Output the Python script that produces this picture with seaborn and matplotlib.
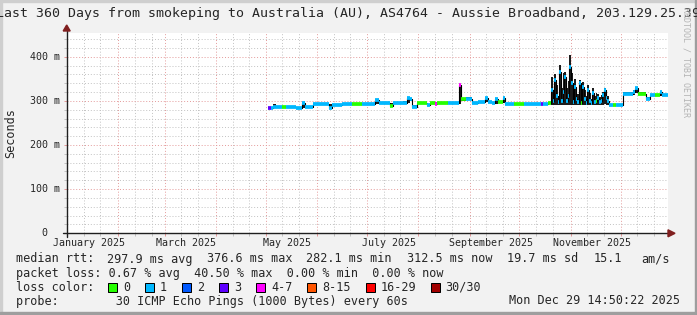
import numpy as np
import pandas as pd
import matplotlib
matplotlib.use("Agg")
import matplotlib.pyplot as plt
import matplotlib.dates as mdates
from matplotlib.patches import Rectangle, Polygon
from matplotlib.lines import Line2D
import seaborn as sns

# ---------------- data ----------------
day_of_year = [121.5, 123, 124.5, 126, 130, 132, 138, 142, 143.5, 148.5,
               152, 158, 160, 166, 172, 178, 182, 186, 188, 195,
               196.5, 203, 205, 207, 208, 211, 217, 219, 222, 223.5,
               230, 235, 236.5, 237.5, 241, 244.5, 248, 252, 254, 256.5,
               258, 260, 263, 264.5, 270, 276, 282, 286, 287, 290.5,
               292, 293, 294, 295, 296, 297, 298, 299, 300, 301,
               302, 303, 304, 305, 306, 307, 308, 309, 310, 311,
               312, 313, 314, 315, 316, 317, 318, 319, 320, 321,
               322, 323, 324, 325, 326,
               327, 329.5, 331, 335.5, 341.5, 343, 344.5, 349.5, 351.5, 355,
               357.5, 359, 362.6]
median_ms = [283, 284, 285, 285, 286, 285, 284, 296, 285, 293,
             293, 284, 291, 293, 292, 294, 293, 302, 295, 288,
             295, 296, 306, 304, 287, 294.5, 291, 294.5, 294, 294.5,
             294.5, 295, 336, 304, 305, 294.5, 298, 307, 298, 294.5,
             304, 298, 306, 293.5, 293.5, 293.5, 293.5, 293, 293.5, 294.5,
             325, 300, 347, 310, 298, 366, 299, 320, 355, 299,
             310, 377, 340, 297, 332, 305, 297, 340, 294.5, 332,
             305, 294.5, 325, 300, 294.5, 317, 298, 300, 306, 298,
             300, 313, 325, 306, 300,
             290.5, 290.5, 290.5, 316, 320, 328, 316, 304, 313, 313,
             320, 313, 312.5]
loss_class = [3, 1, 1, 1, 0, 1, 1, 1, 1, 1,
              1, 1, 1, 1, 0, 1, 1, 1, 1, 0,
              1, 1, 1, 1, 1, 0, 1, 0, 4, 0,
              1, 1, 4, 0, 1, 1, 1, 1, 1, 1,
              1, 0, 1, 1, 0, 1, 1, 3, 1, 0,
              1, 1, 1, 1, 1, 1, 1, 1, 1, 1,
              1, 1, 1, 1, 1, 1, 1, 1, 0, 1,
              1, 1, 1, 1, 1, 1, 1, 0, 1, 1,
              1, 1, 1, 1, 1,
              1, 0, 1, 1, 1, 1, 0, 1, 1, 0,
              1, 1, 1]
smoke_lo_ms = [281, 282, 283, 283, 284, 283, 282, 284, 283, 290,
               291, 282, 289, 291, 290, 291, 291, 292, 293, 286,
               293, 294, 296, 300, 283, 292, 289, 292, 292, 292,
               292, 293, 294, 300, 301, 292, 295, 298, 295, 292,
               294, 295, 296, 291, 291, 291, 291, 291, 291, 292,
               290, 290, 290, 290, 290, 290, 290, 290, 290, 290,
               290, 290, 290, 290, 290, 290, 290, 290, 290, 290,
               290, 290, 290, 290, 290, 290, 290, 290, 290, 290,
               290, 290, 292, 290, 290,
               288, 288, 288, 313, 314, 318, 313, 301, 310, 310,
               312, 310, 310]
smoke_hi_ms = [286, 287, 293, 288, 289, 287, 287, 298, 288, 295,
               295, 292, 294, 295, 294, 296, 296, 304, 297, 295,
               297, 299, 308, 306, 290, 297, 294, 297, 297, 297,
               297, 298, 338, 307, 308, 297, 300, 309, 300, 297,
               306, 300, 308, 296, 296, 296, 296, 296, 296, 297,
               355, 320, 360, 335, 312, 381, 330, 362, 365, 330,
               345, 404, 362, 320, 350, 330, 315, 347, 312, 343,
               325, 310, 335, 318, 305, 328, 310, 318, 315, 308,
               313, 320, 330, 315, 310,
               293, 293, 293, 319, 324, 330, 319, 308, 316, 316,
               322, 316, 315]

loss_labels = ["0", "1", "2", "3", "4-7", "8-15", "16-29", "30/30"]
loss_colors = ["#26ff00", "#00b8ff", "#0059ff", "#5e00ff",
               "#ff00ff", "#ff5500", "#ff0000", "#a10000"]
month_labels = ["January 2025", "March 2025", "May 2025",
                "July 2025", "September 2025", "November 2025"]
month_label_dates = ["2025-01-14", "2025-03-14", "2025-05-14",
                     "2025-07-14", "2025-09-14", "2025-11-14"]
ytick_values = [0, 100, 200, 300, 400]
ytick_labels = ["  0", "100 m", "200 m", "300 m", "400 m"]

title = "Last 360 Days from smokeping to Australia (AU), AS4764 - Aussie Broadband, 203.129.25.39"
median_items = ["median rtt:", "297.9 ms avg", "376.6 ms max", "282.1 ms min",
                "312.5 ms now", "19.7 ms sd", "15.1", "am/s"]
median_item_x = [16, 107.3, 207.3, 306.5, 406.7, 506.7, 593.3, 641.7]
loss_line = "packet loss: 0.67 % avg  40.50 % max  0.00 % min  0.00 % now"
probe_line = "probe:        30 ICMP Echo Pings (1000 Bytes) every 60s"
stamp = "Mon Dec 29 14:50:22 2025"

# ---------------- style ----------------
sns.set_theme(style="white")
plt.rcParams["font.family"] = ["DejaVu Sans Mono", "DejaVu Sans"]

W, H = 697, 315
BACK = "#f2f2f2"
GRID = "#c2c2c2"
MGRID = "#e49a9a"
ARROW = (0.5, 0.12, 0.12)
AXIS = (0.12, 0.12, 0.12)
MONO = "DejaVu Sans Mono"

fig = plt.figure(figsize=(W / 100, H / 100), dpi=100)
fig.patch.set_facecolor(BACK)


def fx(px):
    return px / W


def fy(py):
    return 1 - py / H


L, R, T, B = 67, 668, 33, 233.3
ax = fig.add_axes([fx(L), fy(B), (R - L) / W, (B - T) / H])
ax.set_facecolor("white")

start = pd.Timestamp("2025-01-03 14:50:22")
end = pd.Timestamp("2025-12-29 14:50:22")

dates = pd.Timestamp("2025-01-01") + pd.to_timedelta(day_of_year, unit="D")
xs = mdates.date2num(dates.to_pydatetime())
med = np.array(median_ms, dtype=float)

# smoke
ax.fill_between(xs, smoke_lo_ms, smoke_hi_ms, step="post",
                color="#1c1c1c", lw=0, zorder=2)
# thin black median step line
df = pd.DataFrame({"x": xs, "median": med})
sns.lineplot(data=df, x="x", y="median", drawstyle="steps-post",
             color="black", lw=0.8, ax=ax, zorder=3)
# colored median segments by loss
ax.hlines(med[:-1], xs[:-1], xs[1:],
          colors=[loss_colors[c] for c in loss_class[:-1]],
          lw=2.7, zorder=4, capstyle="butt")

ax.set_xlim(mdates.date2num(start), mdates.date2num(end))
ax.set_ylim(0, 453.7)
ax.set_xlabel("")
ax.set_ylabel("")

# grid / ticks
month_starts = pd.date_range("2025-01-01", "2025-12-01", freq="MS")
minor_days = [m + pd.Timedelta(days=k) for m in month_starts for k in (10, 20)]
ax.set_xticks(mdates.date2num(month_starts.to_pydatetime()))
ax.set_xticks(mdates.date2num([d.to_pydatetime() for d in minor_days]), minor=True)
ax.set_yticks(ytick_values)
ax.set_yticks(np.arange(0, 454, 20), minor=True)
ax.grid(which="major", color=MGRID, lw=0.7, ls=(0, (1.0, 2.0)))
ax.grid(which="minor", color=GRID, lw=0.7, ls=(0, (1.0, 2.0)))
ax.set_axisbelow(True)
ax.tick_params(which="both", direction="out", length=2.2, width=0.72,
               bottom=True, left=True, labelbottom=False, labelleft=False)
ax.tick_params(which="major", color=MGRID)
ax.tick_params(which="minor", color=GRID)
for s in ax.spines.values():
    s.set_visible(False)

# axes lines + arrows
fig.add_artist(Line2D([fx(63), fx(668)], [fy(B), fy(B)], color=AXIS, lw=1.0,
                      transform=fig.transFigure, zorder=6))
fig.add_artist(Polygon([[fx(668), fy(B - 3.5)], [fx(668), fy(B + 3.5)], [fx(675), fy(B)]],
                       closed=True, color=ARROW, transform=fig.transFigure, zorder=6))
fig.add_artist(Line2D([fx(66.7), fx(66.7)], [fy(237), fy(31)], color=AXIS, lw=1.0,
                      transform=fig.transFigure, zorder=6))
fig.add_artist(Polygon([[fx(63.2), fy(31)], [fx(70.2), fy(31)], [fx(66.7), fy(25)]],
                       closed=True, color=ARROW, transform=fig.transFigure, zorder=6))

# x labels
for lab, d in zip(month_labels, month_label_dates):
    ax.text(mdates.date2num(pd.Timestamp(d).to_pydatetime()), (B - 243.5) / (B - T), lab,
            transform=ax.get_xaxis_transform(), ha="center", va="center",
            fontsize=7.2, family=MONO)
# y labels
for v, lab in zip(ytick_values, ytick_labels):
    ax.text((30 - L) / (R - L), v, lab, transform=ax.get_yaxis_transform(),
            ha="left", va="center", fontsize=7.2, family=MONO)
fig.text(fx(11), fy(133), "Seconds", rotation=90, ha="center", va="center",
         fontsize=8.5, family=MONO)

# title
fig.text(fx(348.5), fy(14), title, ha="center", va="center", fontsize=9.5, family=MONO)

# watermark
fig.text(fx(686), fy(62), "RRDTOOL / TOBI OETIKER", rotation=-90, ha="center",
         va="center", fontsize=6, family=MONO, color="#b4b4b4")

# legend
for item, x in zip(median_items, median_item_x):
    fig.text(fx(x), fy(259), item, ha="left", va="center", fontsize=8.5, family=MONO)
fig.text(fx(16), fy(273.5), loss_line, ha="left", va="center", fontsize=8.5, family=MONO)
fig.text(fx(16), fy(287.5), "loss color:", ha="left", va="center", fontsize=8.5, family=MONO)
sq_x = [108, 145, 182, 219, 256, 307, 365.7, 430.7]
lab_x = [123, 160, 197, 234, 271, 322, 380.7, 445]
for c, lab, sx, lx in zip(loss_colors, loss_labels, sq_x, lab_x):
    fig.add_artist(Rectangle((fx(sx), fy(292)), 9 / W, 9 / H, facecolor=c,
                             edgecolor="black", lw=0.72, transform=fig.transFigure))
    fig.text(fx(lx), fy(287.5), lab, ha="left", va="center", fontsize=8.5, family=MONO)
fig.text(fx(16), fy(301), probe_line, ha="left", va="center", fontsize=8.5, family=MONO)
fig.text(fx(680), fy(301), stamp, ha="right", va="center", fontsize=8.5, family=MONO)

# frame shading
fig.add_artist(Rectangle((0, 0), fx(2), 1, color="#cfcfcf", transform=fig.transFigure, zorder=0))
fig.add_artist(Rectangle((0, fy(2)), 1, 2 / H, color="#cfcfcf", transform=fig.transFigure, zorder=0))
fig.add_artist(Rectangle((fx(695), 0), 2 / W, 1, color="#9e9e9e", transform=fig.transFigure, zorder=0))
fig.add_artist(Rectangle((0, 0), 1, 3 / H, color="#9e9e9e", transform=fig.transFigure, zorder=0))

fig.savefig("out.png", dpi=100, facecolor=BACK)
